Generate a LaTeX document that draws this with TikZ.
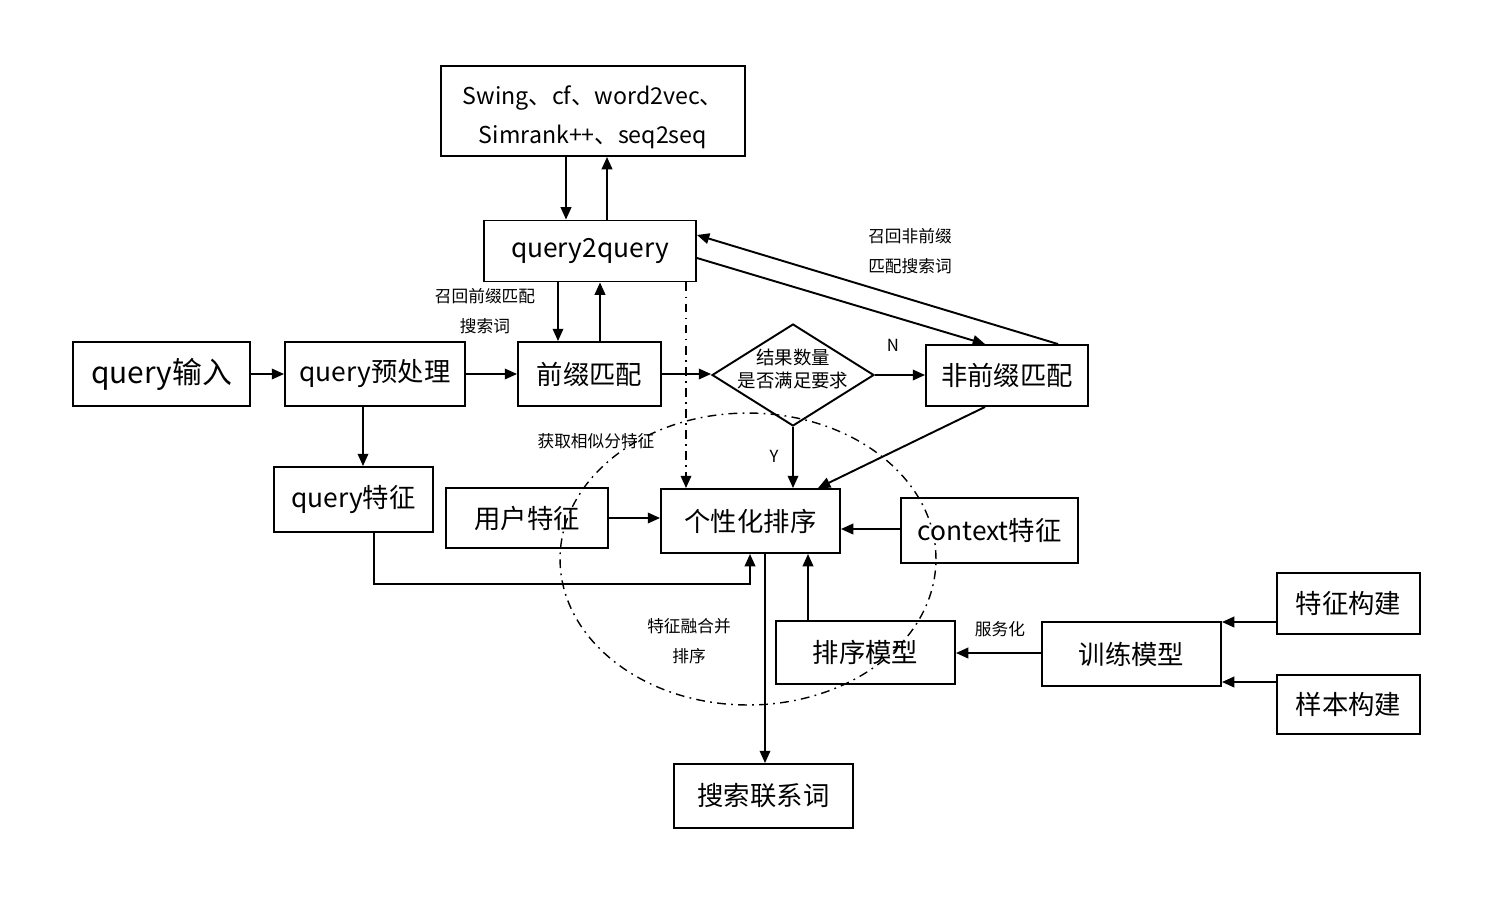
\documentclass[tikz,border=0pt]{standalone}
\usepackage{fontspec}
\setmainfont{Noto Sans CJK SC}
\usetikzlibrary{arrows.meta}
\usetikzlibrary{shapes.geometric}

\tikzset{
  box/.style={draw,line width=1.1pt,inner sep=0pt,font=\fontsize{15}{18}\selectfont},
  lbl/.style={font=\fontsize{9.5}{11}\selectfont,inner sep=1pt},
  conn/.style={-{Triangle[length=7pt,width=6pt]},line width=1.1pt},
  dashdot/.style={line width=0.8pt,dash pattern=on 5pt off 3pt on 1pt off 3pt}
}

\begin{document}
\begin{tikzpicture}[x=0.02cm,y=-0.02cm]
\useasboundingbox (0,0) rectangle (1500,900);

\node[box,minimum width=6.08cm,minimum height=1.8cm] (algo) at (593,111) {};
\node[align=center,inner sep=0pt,font=\fontsize{13.2}{22}\selectfont] (algotxt) at (593,117) {Swing、cf、word2vec、\\Simrank++、seq2seq};
\node[box,minimum width=4.24cm,minimum height=1.22cm] (q2q) at (590,251) {query2query};
\node[box,minimum width=3.54cm,minimum height=1.28cm,font=\fontsize{17}{20}\selectfont] (input) at (161.5,374) {query输入};
\node[box,minimum width=3.6cm,minimum height=1.28cm] (pre) at (375,374) {query预处理};
\node[box,minimum width=2.86cm,minimum height=1.28cm] (prefix) at (589.5,374) {前缀匹配};
\node[draw,line width=1.1pt,diamond,inner sep=0pt,minimum width=3.24cm,minimum height=2.04cm] (dia) at (793,375) {};
\node[align=center,inner sep=0pt,font=\fontsize{10.5}{13}\selectfont] (diatxt) at (793,369) {结果数量\\是否满足要求};
\node[box,minimum width=3.24cm,minimum height=1.22cm] (nonpre) at (1007,375.5) {非前缀匹配};
\node[box,minimum width=3.18cm,minimum height=1.3cm] (qfeat) at (353.5,499.5) {query特征};
\node[box,minimum width=3.24cm,minimum height=1.2cm] (user) at (527,518) {用户特征};
\node[box,minimum width=3.58cm,minimum height=1.28cm] (rank) at (750.5,521) {个性化排序};
\node[box,minimum width=3.54cm,minimum height=1.3cm] (ctx) at (989.5,530.5) {context特征};
\node[box,minimum width=3.58cm,minimum height=1.26cm] (model) at (865.5,652.5) {排序模型};
\node[box,minimum width=3.58cm,minimum height=1.28cm] (train) at (1131.5,654) {训练模型};
\node[box,minimum width=2.86cm,minimum height=1.22cm] (fbuild) at (1348.5,603.5) {特征构建};
\node[box,minimum width=2.86cm,minimum height=1.18cm] (sbuild) at (1348.5,704.5) {样本构建};
\node[box,minimum width=3.58cm,minimum height=1.28cm] (out) at (763.5,796) {搜索联系词};

\draw[dashdot] (748,559) ellipse [x radius=3.76cm, y radius=2.92cm];

\draw[conn] (algo.south -| 566,0) -- (q2q.north -| 566,0);
\draw[conn] (q2q.north -| 607,0) -- (algo.south -| 607,0);
\draw[conn] (q2q.south -| 558,0) -- (prefix.north -| 558,0);
\draw[conn] (prefix.north -| 600,0) -- (q2q.south -| 600,0);
\draw[conn,dashdot,line width=1.1pt] (q2q.south -| 686,0) -- (rank.north -| 686,0);
\draw[conn] (q2q.east |- 0,258) -- (nonpre.north -| 985,0);
\draw[conn] (nonpre.north -| 1058,0) -- (q2q.east |- 0,235);
\draw[conn] (input.east) -- (input.east -| pre.west);
\draw[conn] (pre.east) -- (pre.east -| prefix.west);
\draw[conn] (prefix.east) -- (prefix.east -| dia.west);
\draw[conn] (dia.east) -- (dia.east -| nonpre.west);
\draw[conn] (dia.south) -- (rank.north -| dia.south);
\draw[conn] (nonpre.south -| 985,0) -- (rank.north -| 818,0);
\draw[conn] (pre.south -| 363,0) -- (qfeat.north -| 363,0);
\draw[conn] (user.east) -- (user.east -| rank.west);
\draw[conn] (ctx.west |- 0,529) -- (rank.east |- 0,529);
\draw[conn] (qfeat.south -| 374,0) -- (374,584) -- (750,584) -- (rank.south -| 750,0);
\draw[conn] (rank.south -| 765,0) -- (out.north -| 765,0);
\draw[conn] (model.north -| 808,0) -- (rank.south -| 808,0);
\draw[conn] (train.west |- 0,653) -- (model.east |- 0,653);
\draw[conn] (fbuild.west |- 0,622) -- (train.east |- 0,622);
\draw[conn] (sbuild.west |- 0,682) -- (train.east |- 0,682);

\node[lbl] (lblN) at (893,345) {N};
\node[lbl] (lblY) at (774,456) {Y};
\node[lbl] (lblpre1) at (485,296) {召回前缀匹配};
\node[lbl] (lblpre2) at (485,326) {搜索词};
\node[lbl] (lblnon1) at (910,236) {召回非前缀};
\node[lbl] (lblnon2) at (910,266) {匹配搜索词};
\node[lbl] (lblsim) at (596,441) {获取相似分特征};
\node[lbl] (lblfuse1) at (689,626) {特征融合并};
\node[lbl] (lblfuse2) at (689,656) {排序};
\node[lbl] (lblsvc) at (1000,629) {服务化};

\end{tikzpicture}
\end{document}
